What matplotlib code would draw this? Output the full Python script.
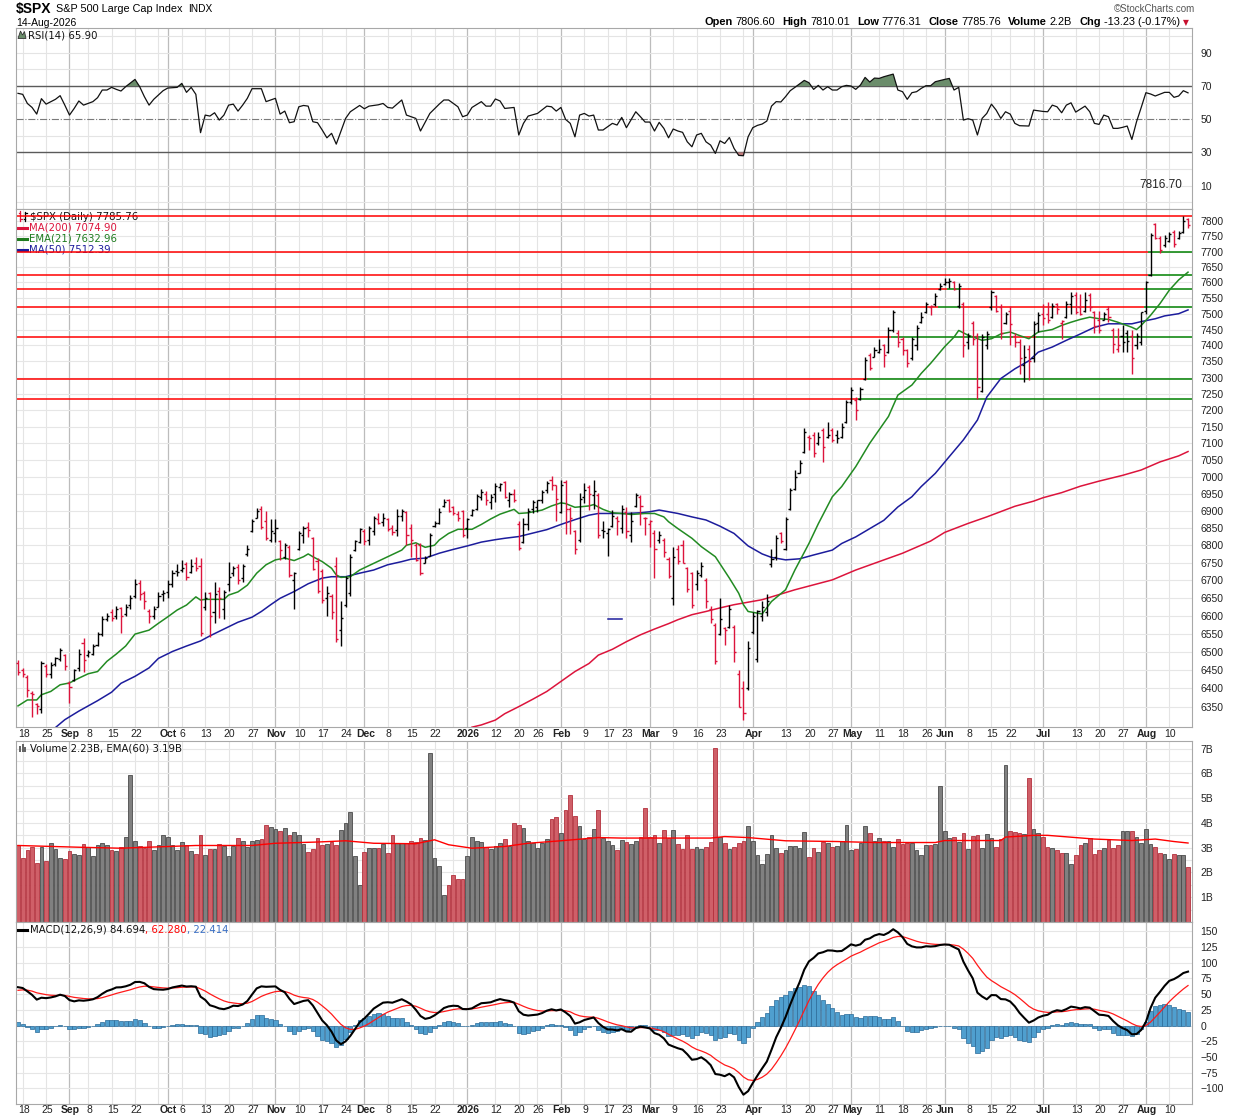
import numpy as np
import pandas as pd
import matplotlib
matplotlib.use('Agg')
import matplotlib.pyplot as plt
from matplotlib.collections import LineCollection
from matplotlib.lines import Line2D
from matplotlib.patches import Polygon, Rectangle
from matplotlib.ticker import FixedLocator, NullLocator, FuncFormatter, NullFormatter
import matplotlib.transforms as mtransforms

plt.rcParams['font.family'] = ['Liberation Sans', 'DejaVu Sans']

W, H = 1240, 1119

# trading calendar
holidays = ['2025-09-01', '2025-11-27', '2025-12-25', '2026-01-01', '2026-01-19',
            '2026-02-16', '2026-04-03', '2026-05-25', '2026-06-19', '2026-07-03']
days = pd.bdate_range('2025-08-15', '2026-08-14')
days = days[~days.isin(pd.to_datetime(holidays))]
n = len(days)

# daily OHLC
opens = [
    6470, 6450, 6430, 6388, 6358, 6345, 6462, 6440, 6468, 6480,
    6490, 6415, 6422, 6455, 6525, 6490, 6495, 6520, 6550, 6592,
    6610, 6600, 6622, 6605, 6630, 6655, 6692, 6665, 6612, 6600,
    6625, 6660, 6668, 6690, 6725, 6728, 6745, 6722, 6750, 6740,
    6625, 6665, 6610, 6670, 6620, 6690, 6720, 6738, 6705, 6775,
    6840, 6880, 6905, 6870, 6815, 6835, 6812, 6765, 6795, 6700,
    6790, 6830, 6852, 6820, 6755, 6725, 6650, 6655, 6740, 6560,
    6630, 6665, 6785, 6810, 6840, 6815, 6840, 6875, 6868, 6875,
    6850, 6845, 6885, 6895, 6850, 6800, 6800, 6750, 6770, 6855,
    6865, 6915, 6930, 6910, 6890, 6900, 6850, 6888, 6905, 6940,
    6950, 6925, 6950, 6970, 6985, 6930, 6950, 6860, 6810, 6860,
    6905, 6910, 6930, 6960, 6990, 6975, 6895, 6985, 6905, 6840,
    6815, 6940, 6970, 6945, 6945, 6845, 6835, 6855, 6880, 6850,
    6895, 6830, 6915, 6940, 6880, 6860, 6835, 6815, 6815, 6760,
    6650, 6790, 6800, 6735, 6720, 6690, 6715, 6700, 6620, 6575,
    6550, 6565, 6570, 6570, 6440, 6400, 6400, 6555, 6480, 6600,
    6610, 6745, 6765, 6835, 6790, 6905, 6965, 7012, 7075, 7120,
    7125, 7100, 7140, 7120, 7140, 7125, 7120, 7165, 7225, 7230,
    7235, 7295, 7370, 7365, 7380, 7400, 7380, 7450, 7440, 7420,
    7385, 7360, 7400, 7475, 7505, 7520, 7530, 7580, 7595, 7600,
    7600, 7525, 7530, 7410, 7470, 7430, 7260, 7400, 7520, 7555,
    7520, 7470, 7510, 7430, 7410, 7340, 7390, 7360, 7470, 7500,
    7500, 7490, 7530, 7470, 7490, 7530, 7560, 7520, 7510, 7560,
    7505, 7480, 7480, 7515, 7450, 7390, 7430, 7440, 7430, 7400,
    7410, 7510, 7625, 7790, 7745, 7720, 7735, 7765, 7745, 7765, 7806.60]
highs = [
    6478, 6455, 6436, 6392, 6362, 6476, 6467, 6471, 6487, 6510,
    6494, 6420, 6453, 6507, 6537, 6506, 6521, 6555, 6598, 6608,
    6618, 6628, 6625, 6632, 6658, 6703, 6700, 6670, 6618, 6628,
    6668, 6672, 6700, 6728, 6745, 6758, 6752, 6760, 6765, 6762,
    6668, 6668, 6695, 6680, 6672, 6752, 6740, 6745, 6745, 6800,
    6875, 6907, 6915, 6900, 6876, 6876, 6815, 6805, 6800, 6722,
    6840, 6856, 6868, 6825, 6763, 6733, 6683, 6660, 6765, 6640,
    6713, 6776, 6816, 6850, 6848, 6855, 6885, 6893, 6893, 6880,
    6858, 6905, 6905, 6900, 6860, 6806, 6806, 6768, 6835, 6870,
    6908, 6935, 6935, 6915, 6898, 6903, 6880, 6905, 6950, 6965,
    6958, 6950, 6982, 6982, 6988, 6955, 6965, 6870, 6878, 6907,
    6932, 6932, 6962, 6986, 7001, 6977, 6990, 6990, 6912, 6843,
    6951, 6981, 6976, 6990, 6951, 6870, 6850, 6902, 6885, 6918,
    6912, 6897, 6951, 6946, 6883, 6873, 6843, 6840, 6820, 6767,
    6795, 6800, 6814, 6739, 6724, 6729, 6753, 6705, 6626, 6580,
    6650, 6570, 6631, 6575, 6449, 6420, 6530, 6610, 6617, 6640,
    6660, 6790, 6829, 6839, 6883, 6966, 7020, 7050, 7145, 7125,
    7135, 7135, 7145, 7165, 7145, 7140, 7160, 7230, 7271, 7240,
    7271, 7364, 7375, 7395, 7421, 7405, 7459, 7513, 7448, 7427,
    7390, 7427, 7465, 7506, 7538, 7527, 7565, 7597, 7613, 7613,
    7605, 7597, 7538, 7440, 7477, 7440, 7436, 7445, 7575, 7560,
    7532, 7505, 7525, 7440, 7420, 7400, 7400, 7477, 7505, 7532,
    7537, 7535, 7535, 7480, 7540, 7568, 7570, 7562, 7568, 7565,
    7510, 7510, 7505, 7525, 7455, 7455, 7465, 7450, 7450, 7440,
    7505, 7604, 7760, 7795, 7750, 7755, 7765, 7770, 7768, 7816.70, 7810.01]
lows = [
    6437, 6432, 6378, 6322, 6330, 6333, 6432, 6428, 6460, 6474,
    6449, 6362, 6420, 6448, 6445, 6485, 6490, 6515, 6545, 6585,
    6586, 6590, 6553, 6598, 6620, 6650, 6645, 6620, 6580, 6590,
    6625, 6640, 6650, 6680, 6712, 6722, 6700, 6720, 6725, 6545,
    6615, 6540, 6580, 6595, 6590, 6670, 6712, 6690, 6695, 6768,
    6838, 6878, 6848, 6815, 6810, 6810, 6757, 6760, 6710, 6620,
    6786, 6805, 6825, 6728, 6663, 6635, 6600, 6590, 6528, 6515,
    6625, 6655, 6783, 6807, 6800, 6800, 6830, 6860, 6855, 6840,
    6830, 6828, 6870, 6800, 6766, 6755, 6715, 6750, 6768, 6852,
    6860, 6910, 6895, 6888, 6870, 6825, 6820, 6885, 6903, 6930,
    6918, 6905, 6925, 6958, 6937, 6910, 6925, 6786, 6805, 6843,
    6893, 6895, 6923, 6952, 6962, 6870, 6893, 6833, 6833, 6776,
    6810, 6922, 6902, 6905, 6820, 6820, 6770, 6853, 6830, 6835,
    6820, 6810, 6912, 6858, 6830, 6795, 6705, 6805, 6767, 6705,
    6630, 6745, 6748, 6667, 6622, 6672, 6710, 6622, 6580, 6468,
    6547, 6519, 6566, 6472, 6350, 6315, 6395, 6550, 6473, 6585,
    6600, 6737, 6758, 6805, 6785, 6902, 6961, 7010, 7070, 7080,
    7060, 7095, 7045, 7115, 7105, 7100, 7115, 7160, 7220, 7170,
    7230, 7292, 7323, 7364, 7375, 7333, 7375, 7443, 7396, 7370,
    7333, 7354, 7385, 7470, 7501, 7496, 7523, 7576, 7592, 7582,
    7576, 7517, 7365, 7390, 7400, 7235, 7255, 7390, 7512, 7505,
    7420, 7468, 7400, 7395, 7312, 7287, 7292, 7348, 7442, 7463,
    7472, 7485, 7500, 7420, 7485, 7500, 7500, 7495, 7505, 7510,
    7440, 7440, 7480, 7475, 7375, 7380, 7380, 7380, 7310, 7390,
    7400, 7500, 7622, 7740, 7695, 7715, 7730, 7715, 7740, 7760, 7776.31]
closes = [
    6445, 6440, 6395, 6385, 6352, 6470, 6438, 6465, 6482, 6505,
    6460, 6405, 6450, 6495, 6478, 6500, 6515, 6550, 6590, 6600,
    6595, 6620, 6600, 6625, 6650, 6690, 6660, 6640, 6598, 6620,
    6655, 6665, 6690, 6720, 6722, 6735, 6710, 6740, 6735, 6552,
    6650, 6600, 6660, 6650, 6668, 6710, 6735, 6700, 6740, 6790,
    6870, 6900, 6852, 6820, 6840, 6850, 6786, 6800, 6715, 6720,
    6836, 6850, 6845, 6733, 6670, 6643, 6665, 6610, 6535, 6595,
    6705, 6765, 6812, 6846, 6812, 6851, 6880, 6865, 6880, 6848,
    6838, 6884, 6898, 6830, 6815, 6758, 6720, 6763, 6830, 6865,
    6895, 6925, 6900, 6892, 6880, 6830, 6875, 6901, 6944, 6955,
    6930, 6940, 6972, 6978, 6940, 6948, 6932, 6792, 6860, 6900,
    6925, 6930, 6955, 6982, 6975, 6935, 6975, 6905, 6880, 6790,
    6935, 6960, 6950, 6958, 6830, 6840, 6848, 6885, 6870, 6905,
    6840, 6870, 6945, 6915, 6878, 6870, 6790, 6830, 6780, 6712,
    6765, 6755, 6750, 6675, 6630, 6720, 6740, 6640, 6590, 6475,
    6590, 6560, 6620, 6500, 6350, 6335, 6510, 6600, 6612, 6625,
    6640, 6760, 6820, 6812, 6875, 6960, 7000, 7040, 7135, 7115,
    7070, 7120, 7090, 7125, 7110, 7115, 7150, 7225, 7262, 7200,
    7265, 7355, 7330, 7385, 7390, 7370, 7450, 7505, 7410, 7385,
    7345, 7420, 7455, 7490, 7530, 7525, 7555, 7590, 7600, 7605,
    7580, 7590, 7400, 7430, 7420, 7270, 7425, 7435, 7570, 7507,
    7440, 7500, 7468, 7410, 7360, 7365, 7350, 7468, 7495, 7485,
    7480, 7525, 7515, 7478, 7530, 7555, 7505, 7500, 7545, 7520,
    7460, 7450, 7500, 7490, 7405, 7400, 7410, 7415, 7360, 7430,
    7505, 7600, 7755, 7745, 7705, 7745, 7758, 7725, 7762, 7798.99, 7785.76]

# volume in billions
volumes = [
    3.12, 2.58, 2.91, 3.02, 2.40, 3.02, 2.48, 3.21, 2.96, 2.60,
    2.54, 2.85, 2.74, 2.71, 3.13, 3.02, 2.65, 3.12, 3.21, 3.12,
    2.89, 2.85, 3.01, 3.45, 5.92, 3.29, 3.05, 2.98, 3.29, 2.89,
    3.12, 3.50, 3.45, 3.12, 2.89, 3.25, 3.12, 2.87, 2.74, 3.50,
    2.71, 2.93, 2.93, 3.16, 3.08, 2.65, 3.08, 3.41, 3.29, 3.02,
    3.29, 3.30, 3.35, 3.93, 3.82, 3.77, 3.66, 3.79, 3.50, 3.62,
    3.52, 3.14, 2.81, 2.94, 3.39, 3.12, 3.14, 3.25, 3.09, 3.70,
    3.99, 4.43, 2.65, 1.50, 2.81, 2.98, 2.98, 2.98, 3.16, 2.78,
    3.50, 3.18, 3.18, 3.18, 3.29, 3.23, 3.41, 3.32, 6.83, 2.58,
    2.27, 1.09, 1.50, 1.90, 1.73, 1.73, 2.65, 3.45, 3.29, 3.23,
    3.02, 2.94, 3.05, 3.21, 3.35, 3.05, 3.99, 3.90, 3.79, 3.29,
    3.21, 2.98, 3.21, 3.35, 4.16, 4.26, 3.59, 4.53, 5.11, 4.30,
    3.86, 3.35, 3.45, 3.75, 4.52, 3.39, 3.29, 3.09, 2.89,
    3.32, 3.25, 3.14, 3.28, 3.45, 4.60, 3.45, 3.50, 3.21, 3.70,
    3.41, 3.70, 3.14, 2.96, 3.50, 2.96, 3.02, 2.96, 3.02, 3.25,
    7.03, 3.45, 3.18, 2.96, 3.02, 3.18, 3.28, 3.86, 3.29, 2.71,
    2.33, 2.74, 3.50, 2.98, 2.78, 2.89, 3.05, 3.05, 2.98, 3.62,
    2.62, 2.98, 2.81, 3.23, 3.18, 3.02, 3.08, 3.28, 3.90, 2.89,
    2.94, 3.21, 3.86, 3.59, 3.29, 3.41, 3.29, 3.29, 3.02, 3.35,
    3.16, 3.18, 3.18, 2.91, 2.71, 3.09, 3.12, 3.16, 5.48, 3.66,
    3.41, 3.43, 3.25, 3.59, 2.94, 3.48, 3.52, 2.98, 3.55, 3.39,
    3.02, 3.35, 6.33, 3.66, 3.62, 3.59, 3.55, 5.82, 3.74, 3.59,
    3.43, 3.02, 2.98, 2.89, 2.78, 2.78, 2.33, 2.71, 3.09, 3.18,
    3.41, 2.74, 2.89, 2.98, 3.32, 2.98, 3.09, 3.66, 3.66, 3.66,
    3.43, 3.18, 3.75, 3.16, 3.02, 2.78, 2.74, 2.54, 2.74, 2.70, 2.70, 2.23]

assert len(opens) == len(highs) == len(lows) == len(closes) == len(volumes) == n

# overlay lines read at sampled bars
ema21_bar = [0, 2, 4, 5, 7, 9, 11, 13, 15, 17, 19, 21, 23, 25, 28, 30, 32, 34, 36, 38,
             39, 40, 42, 44, 45, 47, 49, 51, 53, 55, 57, 59, 61, 62, 63, 65, 67, 68, 69, 71,
             73, 76, 79, 82, 83, 85, 87, 89, 90, 92, 94, 97, 99, 101, 103, 106, 107, 109, 112, 114,
             116, 117, 119, 122, 123, 125, 127, 129, 131, 134, 136, 138, 139, 141, 144, 146, 149, 152, 154, 155,
             156, 159, 161, 164, 166, 169, 171, 174, 176, 179, 182, 186, 188, 191, 193, 195, 198, 200, 201, 203,
             206, 208, 210, 212, 214, 216, 218, 221, 223, 225, 227, 229, 231, 233, 235, 238, 239, 240, 242, 244,
             246, 248, 250]
ema21_val = [6353, 6369, 6369, 6383, 6392, 6410, 6415, 6428, 6440, 6446, 6474, 6494, 6516, 6549, 6560, 6579, 6597, 6616, 6630, 6653,
             6644, 6646, 6646, 6646, 6658, 6667, 6686, 6720, 6744, 6758, 6763, 6756, 6767, 6775, 6767, 6753, 6734, 6715, 6708, 6710,
             6729, 6748, 6767, 6786, 6800, 6807, 6794, 6800, 6815, 6834, 6846, 6846, 6860, 6876, 6890, 6904, 6892, 6894, 6902, 6914,
             6923, 6921, 6910, 6914, 6918, 6904, 6894, 6892, 6889, 6892, 6892, 6882, 6868, 6848, 6820, 6796, 6767, 6706, 6663, 6631,
             6612, 6605, 6640, 6673, 6729, 6805, 6862, 6941, 6971, 7030, 7100, 7181, 7246, 7277, 7313, 7344, 7396, 7426, 7447, 7432,
             7416, 7421, 7436, 7442, 7431, 7421, 7442, 7450, 7463, 7473, 7482, 7489, 7484, 7482, 7473, 7457, 7450, 7463, 7495, 7532,
             7575, 7608, 7633]
ma50_bar = [8, 10, 13, 17, 20, 22, 25, 28, 30, 33, 36, 39, 41, 44, 47, 50, 52, 54, 56, 59,
            62, 65, 67, 70, 73, 76, 79, 82, 84, 87, 90, 93, 96, 99, 102, 104, 107, 110, 113, 116,
            119, 122, 124, 127, 130, 133, 135, 137, 139, 141, 144, 147, 150, 153, 156, 159, 161, 164, 167, 170,
            174, 176, 179, 182, 185, 188, 191, 193, 196, 199, 202, 205, 207, 210, 213, 216, 218, 221, 224, 227,
            230, 233, 235, 238, 240, 243, 245, 248, 250]
ma50_val = [6295, 6316, 6339, 6367, 6390, 6414, 6433, 6456, 6482, 6501, 6516, 6530, 6544, 6563, 6582, 6596, 6612, 6631, 6649, 6668,
            6690, 6706, 6710, 6710, 6720, 6729, 6744, 6753, 6760, 6763, 6777, 6788, 6798, 6809, 6816, 6820, 6825, 6835, 6845, 6860,
            6874, 6887, 6892, 6892, 6892, 6894, 6897, 6902, 6897, 6892, 6882, 6873, 6855, 6834, 6798, 6775, 6765, 6758, 6761, 6772,
            6786, 6805, 6824, 6848, 6872, 6911, 6941, 6971, 7010, 7060, 7110, 7170, 7240, 7297, 7327, 7352, 7379, 7395, 7416, 7436,
            7457, 7468, 7468, 7468, 7475, 7484, 7493, 7500, 7512]
ma200_bar = [97, 99, 102, 104, 107, 110, 113, 116, 119, 122, 124, 127, 130, 133, 136, 139, 141, 144, 147, 150,
             153, 156, 159, 166, 174, 179, 184, 189, 195, 198, 203, 207, 213, 217, 219, 223, 227, 231, 236, 240,
             244, 248, 250]
ma200_val = [6296, 6302, 6315, 6332, 6351, 6371, 6392, 6419, 6446, 6468, 6491, 6507, 6528, 6547, 6563, 6578, 6589, 6603, 6612, 6622,
             6631, 6638, 6645, 6673, 6701, 6729, 6753, 6777, 6812, 6837, 6863, 6882, 6913, 6928, 6938, 6953, 6972, 6987, 7004, 7020,
             7044, 7062, 7075]
vol_ema_bar = [0, 13, 22, 38, 50, 55, 64, 70, 76, 85, 89, 92, 97, 104, 109, 116, 124, 129, 148, 151,
               156, 164, 175, 183, 196, 198, 210, 211, 217, 220, 230, 238, 243, 247, 250]
vol_ema_val = [3.09, 3.02, 2.98, 3.09, 3.09, 3.18, 3.23, 3.28, 3.18, 3.16, 3.32, 3.12, 2.98, 3.05, 3.18, 3.28, 3.41, 3.39, 3.39, 3.45,
               3.41, 3.28, 3.25, 3.21, 3.21, 3.29, 3.29, 3.43, 3.50, 3.50, 3.35, 3.29, 3.35, 3.25, 3.19]

rsi_bar = [0, 1, 2, 3, 4, 5, 6, 8, 9, 10, 11, 12, 13, 14, 16, 17, 18, 19, 20, 21,
           22, 23, 25, 26, 27, 28, 29, 30, 31, 32, 34, 35, 36, 37, 38, 39, 40, 41, 42, 43,
           44, 45, 46, 47, 48, 49, 50, 52, 53, 54, 55, 56, 57, 58, 59, 60, 61, 62, 63, 64,
           65, 66, 67, 68, 70, 71, 73, 74, 75, 77, 78, 79, 80, 82, 83, 85, 86, 88, 90, 91,
           92, 94, 95, 96, 97, 99, 100, 101, 102, 103, 104, 106, 107, 108, 109, 111, 113, 114, 115, 116,
           117, 118, 119, 120, 121, 122, 123, 124, 125, 127, 128, 129, 130, 132, 133, 134, 135, 136, 137, 138,
           139, 140, 141, 142, 143, 144, 145, 146, 147, 148, 149, 150, 151, 152, 153, 154, 155, 156, 157, 158,
           159, 160, 161, 162, 163, 164, 165, 166, 168, 169, 170, 171, 172, 173, 174, 175, 176, 177, 178, 179,
           180, 181, 182, 183, 184, 185, 187, 188, 189, 190, 191, 192, 193, 194, 195, 196, 198, 199, 200, 201,
           202, 203, 204, 205, 206, 207, 208, 209, 210, 211, 212, 213, 214, 216, 217, 219, 220, 221, 222, 223,
           224, 225, 226, 228, 229, 230, 231, 232, 233, 234, 235, 236, 237, 238, 239, 240, 241, 242, 243, 245,
           246, 247, 248, 249, 250]
rsi_val = [65.6, 65.0, 59.5, 57.1, 53.1, 62.4, 59.1, 62.0, 64.2, 58.5, 52.5, 56.5, 61.0, 58.5, 60.6, 63.0, 67.6, 67.6, 69.2, 68.0,
           67.0, 69.6, 74.0, 69.6, 63.6, 58.5, 62.0, 64.6, 67.2, 68.8, 69.2, 71.6, 66.2, 69.2, 65.0, 41.9, 52.5, 51.9, 53.9, 49.5,
           52.5, 58.5, 59.1, 54.9, 58.5, 62.6, 68.4, 68.4, 60.6, 61.6, 62.6, 53.1, 54.9, 47.9, 48.5, 57.5, 58.3, 57.9, 48.5, 47.9,
           43.5, 38.8, 41.5, 35.0, 50.5, 54.5, 58.3, 56.3, 57.9, 58.7, 59.5, 57.1, 56.7, 61.6, 52.5, 50.5, 42.9, 53.5, 59.1, 61.6,
           61.6, 57.5, 51.5, 52.5, 57.1, 60.6, 57.9, 57.9, 62.2, 61.0, 56.5, 57.1, 40.5, 47.5, 51.9, 53.5, 57.9, 57.5, 54.9, 57.1,
           49.9, 47.5, 39.4, 52.5, 53.5, 51.9, 52.5, 43.5, 43.5, 47.5, 46.5, 51.1, 44.9, 54.5, 51.5, 48.3, 48.3, 42.9, 48.1, 44.5,
           38.8, 44.1, 42.9, 42.1, 36.4, 33.4, 40.5, 41.5, 36.4, 34.4, 29.4, 37.0, 35.4, 39.0, 32.4, 28.2, 28.0, 39.4, 44.9, 46.3,
           47.1, 48.9, 57.9, 60.6, 60.4, 63.6, 67.2, 69.2, 73.4, 72.0, 68.0, 70.4, 67.6, 69.6, 67.6, 67.6, 69.6, 70.4, 70.0, 68.0,
           70.6, 75.2, 72.4, 74.8, 74.6, 75.6, 77.2, 67.6, 66.6, 62.0, 66.0, 66.6, 68.6, 70.2, 70.2, 72.6, 74.0, 74.6, 67.6, 69.2,
           49.5, 50.3, 49.5, 40.5, 50.5, 53.5, 59.1, 55.5, 50.5, 54.5, 53.1, 47.5, 46.1, 45.9, 55.5, 54.7, 54.5, 58.5, 57.5, 53.9,
           58.5, 59.9, 54.3, 57.9, 54.5, 47.5, 46.9, 52.5, 51.5, 44.5, 44.5, 45.1, 45.9, 37.8, 48.5, 57.1, 66.0, 65.2, 64.0, 66.2,
           66.2, 63.2, 64.0, 67.2, 65.9]

# MACD(12,26,9) starting state read at the left edge
macd_ema12_start = 6400.0
macd_ema26_start = 6339.0
macd_signal_start = 56.0

# horizontal price levels; colour flips (red -> green -> red ...) at these bars
level_values = [7816.70, 7700, 7625, 7580, 7520, 7425, 7295, 7235]
level_turns = [[], [242], [242], [199, 202, 241], [197, 202, 241], [187, 213, 218], [182], [180]]
stray_dash_bars = [126, 129]
stray_dash_level = 6591

# ---------------------------------------------------------------
x = np.arange(n)
o = np.array(opens, float)
hi = np.array(highs, float)
lo = np.array(lows, float)
c = np.array(closes, float)
v = np.array(volumes, float)
up = np.r_[c[0] >= o[0], c[1:] >= c[:-1]]

ema12 = np.empty(n)
ema26 = np.empty(n)
sig = np.empty(n)
ema12[0], ema26[0] = macd_ema12_start, macd_ema26_start
for k in range(1, n):
    ema12[k] = ema12[k - 1] + 2 / 13 * (c[k] - ema12[k - 1])
    ema26[k] = ema26[k - 1] + 2 / 27 * (c[k] - ema26[k - 1])
macd = ema12 - ema26
sig[0] = macd_signal_start
for k in range(1, n):
    sig[k] = sig[k - 1] + 2 / 10 * (macd[k] - sig[k - 1])
hist = macd - sig

# calendar ticks
iso = days.isocalendar()
wkey = iso.year.values * 100 + iso.week.values
week_first = [k for k in range(1, n) if wkey[k] != wkey[k - 1]]
month_first = [k for k in range(1, n) if days[k].month != days[k - 1].month]
labels = []
for m in month_first:
    d = days[m]
    labels.append((m, str(d.year) if d.month == 1 else d.strftime('%b'), True))
week_grid = []
for k in week_first:
    if k in month_first:
        continue
    after = any(0 < k - m <= 2 for m in month_first)
    if not after:
        week_grid.append(k)
    before = any(0 < m - k <= (3 if days[m].month == 1 else 2) for m in month_first)
    if not after and not before:
        labels.append((k, str(days[k].day), False))

# ---------------------------------------------------------------
fig = plt.figure(figsize=(W / 100, H / 100), dpi=100)
fig.patch.set_facecolor('white')


def box(left, top, right, bottom):
    return [left / W, 1 - bottom / H, (right - left) / W, (bottom - top) / H]


def fpt(px, py):
    return px / W, 1 - py / H


ax_rsi = fig.add_axes(box(16, 28.3, 1192, 209))
ax_px = fig.add_axes(box(16, 209, 1192, 727))
ax_vol = fig.add_axes(box(16, 741, 1192, 922))
ax_macd = fig.add_axes(box(16, 922, 1192, 1103.7))
axes = [ax_rsi, ax_px, ax_vol, ax_macd]

ax_px.set_yscale('log')
for ax in axes:
    ax.set_xlim(-0.43, n - 0.15)
    ax.set_xticks([])
    ax.yaxis.tick_right()
    ax.tick_params(axis='y', which='both', length=0, pad=6, labelsize=7.5, labelcolor='#222222')
    for sp in ax.spines.values():
        sp.set_color('#a8a8a8')
        sp.set_linewidth(0.8)
    for k in week_grid:
        ax.axvline(k, color='#e4e4e4', lw=0.8, zorder=0)
    for k in month_first:
        ax.axvline(k, color='#bcbcbc', lw=0.9, zorder=0)

# RSI panel
ax_rsi.set_ylim(-4.1, 104.8)
ax_rsi.yaxis.set_major_locator(FixedLocator([10, 30, 50, 70, 90]))
for g in range(0, 101, 10):
    if g not in (30, 50, 70):
        ax_rsi.axhline(g, color='#e4e4e4', lw=0.8, zorder=0)
ax_rsi.axhline(70, color='#5a5a5a', lw=1.0, zorder=1)
ax_rsi.axhline(30, color='#5a5a5a', lw=1.0, zorder=1)
ax_rsi.axhline(50, color='#7a7a7a', lw=0.8, ls='-.', zorder=1)
rb = np.array(rsi_bar)
rv = np.array(rsi_val)
ax_rsi.fill_between(rb, rv, 70, where=rv > 70, interpolate=True, color='#6b8d6b', zorder=2, lw=0)
ax_rsi.fill_between(rb, rv, 30, where=rv < 30, interpolate=True, color='#c07c7c', zorder=2, lw=0)
ax_rsi.plot(rb, rv, color='#111111', lw=0.9, zorder=3)

# price panel
ax_px.set_ylim(6296.5, 7839.8)
pticks = np.arange(6350, 7801, 50)
ax_px.yaxis.set_major_locator(FixedLocator(pticks))
ax_px.yaxis.set_minor_locator(NullLocator())
ax_px.yaxis.set_major_formatter(FuncFormatter(lambda val, pos: f'{val:.0f}'))
ax_px.yaxis.set_minor_formatter(NullFormatter())
for t in pticks:
    ax_px.axhline(t, color='#e6e6e6', lw=0.8, zorder=0)

xl, xr = ax_px.get_xlim()
for lvl, turns in zip(level_values, level_turns):
    edges = [xl] + [t - 0.5 for t in turns] + [xr]
    for s in range(len(edges) - 1):
        col = '#ff0000' if s % 2 == 0 else '#008000'
        ax_px.plot([edges[s], edges[s + 1]], [lvl, lvl], color=col, lw=1.1, zorder=2,
                   solid_capstyle='butt')

ax_px.plot(ma200_bar, ma200_val, color='#dc143c', lw=1.1, zorder=3)
ax_px.plot(ma50_bar, ma50_val, color='#1c1c9c', lw=1.1, zorder=3)
ax_px.plot(ema21_bar, ema21_val, color='#228b22', lw=1.1, zorder=3)
ax_px.plot(stray_dash_bars, [stray_dash_level] * 2, color='#1c1c9c', lw=1.1, zorder=3)

bar_col = np.where(up, '#000000', '#dc143c')
segs, cols = [], []
for k in range(n):
    segs += [[(k, lo[k]), (k, hi[k])], [(k - 0.45, o[k]), (k, o[k])], [(k, c[k]), (k + 0.45, c[k])]]
    cols += [bar_col[k]] * 3
ax_px.add_collection(LineCollection(segs, colors=cols, linewidths=1.0, capstyle='butt', zorder=4))

# volume panel
ax_vol.set_ylim(0, 7.31)
ax_vol.yaxis.set_major_locator(FixedLocator(range(1, 8)))
ax_vol.yaxis.set_major_formatter(FuncFormatter(lambda val, pos: f'{val:.0f}B'))
for g in np.arange(0.5, 7.3, 0.5):
    ax_vol.axhline(g, color='#e6e6e6', lw=0.8, zorder=0)
ax_vol.bar(x, v, width=0.8, color=np.where(up, '#808080', '#cf5f68'),
           edgecolor=np.where(up, '#4a4a4a', '#b3303c'), linewidth=0.6, zorder=2)
ax_vol.plot(vol_ema_bar, vol_ema_val, color='#ff0000', lw=1.0, zorder=3)

# MACD panel
ax_macd.set_ylim(-124.5, 164.8)
mt = np.arange(-100, 151, 25)
ax_macd.yaxis.set_major_locator(FixedLocator(mt))
for g in mt:
    ax_macd.axhline(g, color='#e6e6e6', lw=0.8, zorder=0)
ax_macd.bar(x, hist, width=0.92, color='#4f9fcf', edgecolor='#2a6a98', linewidth=0.5, zorder=2)
ax_macd.plot(x, sig, color='#ff1a1a', lw=0.9, zorder=3)
ax_macd.plot(x, macd, color='#000000', lw=1.5, zorder=4)

# date labels
for ax, ypos in ((ax_px, -0.0135), (ax_macd, -0.035)):
    tr = mtransforms.blended_transform_factory(ax.transData, ax.transAxes)
    for k, txt, bold in labels:
        ax.text(k + 0.2, ypos, txt, transform=tr, ha='center', va='center', fontsize=7.5,
                fontweight='bold' if bold else 'normal', color='#222222', clip_on=False)


# ---------------------------------------------------------------
def chain(x_px, y_px, parts, align='left', target=fig, zorder=5):
    r = fig.canvas.get_renderer()
    widths = []
    for s, kw, gap in parts:
        t = fig.text(0, 0, s, **kw)
        widths.append(t.get_window_extent(renderer=r).width + gap)
        t.remove()
    x0 = x_px if align == 'left' else x_px - sum(widths)
    for (s, kw, gap), w in zip(parts, widths):
        target.text(*fpt(x0, y_px), s, transform=fig.transFigure, ha='left', va='center',
                    zorder=zorder, **kw)
        x0 += w


chain(16, 9, [('$SPX', dict(fontsize=10, fontweight='bold'), 4),
              ('S&P 500 Large Cap Index', dict(fontsize=7.8), 6),
              ('INDX', dict(fontsize=7.3), 0)])
fig.text(*fpt(16, 22.5), '14-Aug-2026', fontsize=7.5, va='center', ha='left')
fig.text(*fpt(1195, 9.5), '\u00a9StockCharts.com', fontsize=7, color='#555555', va='center', ha='right')

B = dict(fontsize=7.9, fontweight='bold')
N = dict(fontsize=7.9)
chain(1189, 22.3, [('Open', B, 3), ('7806.60', N, 7), ('High', B, 3), ('7810.01', N, 7),
                   ('Low', B, 3), ('7776.31', N, 7), ('Close', B, 3), ('7785.76', N, 7),
                   ('Volume', B, 3), ('2.2B', N, 7), ('Chg', B, 3), ('-13.23 (-0.17%)', N, 3),
                   ('\u25bc', dict(fontsize=5.5, color='#c8102e', family='DejaVu Sans'), 0)],
      align='right')

LEG = dict(family='DejaVu Sans', fontsize=7.3)
# RSI legend
fig.add_artist(Polygon([fpt(18, 38.5), fpt(20.5, 31), fpt(22.5, 35), fpt(24.5, 31.5), fpt(26, 38.5)],
                       closed=True, facecolor='#6b8d6b', edgecolor='#333333', lw=0.6,
                       transform=fig.transFigure))
fig.text(*fpt(28, 35), 'RSI(14) 65.90', va='center', ha='left', color='#111111', **LEG)
fig.text(*fpt(1182, 185), '7816.70', fontsize=8.5, va='center', ha='right', color='#222222')

# price legend
for xx, (y_a, y_b, y_o, y_c), colr in ((20, (211, 221, 213, 219), '#dc143c'),
                                      (25, (212, 221, 219, 213), '#000000')):
    for seg in ([(xx, y_a), (xx, y_b)], [(xx - 1.5, y_o), (xx, y_o)], [(xx, y_c), (xx + 1.5, y_c)]):
        ax_px.add_artist(Line2D([fpt(*p)[0] for p in seg], [fpt(*p)[1] for p in seg],
                                transform=fig.transFigure, color=colr, lw=0.9, zorder=1))
ax_px.text(*fpt(30, 216.5), '$SPX (Daily) 7785.76', transform=fig.transFigure, va='center',
           ha='left', color='#111111', zorder=1, **LEG)
for yy, txt, colr in ((227.5, 'MA(200) 7074.90', '#dc143c'), (238.5, 'EMA(21) 7632.96', '#1e7b1e'),
                      (249.5, 'MA(50) 7512.39', '#1c1c9c')):
    ax_px.add_artist(Line2D([fpt(18, yy)[0], fpt(27, yy)[0]], [fpt(18, yy)[1]] * 2,
                            transform=fig.transFigure, color=colr, lw=2.2, zorder=1))
    ax_px.text(*fpt(29, yy), txt, transform=fig.transFigure, va='center', ha='left',
               color=colr, zorder=1, **LEG)

# volume legend
for xx, top in ((19.5, 746), (22.5, 744), (25.5, 747)):
    fig.add_artist(Rectangle(fpt(xx - 1, 752), 2 / W, (752 - top) / H, transform=fig.transFigure,
                             facecolor='#666666', edgecolor='none'))
fig.text(*fpt(30, 748.5), 'Volume 2.23B, EMA(60) 3.19B', va='center', ha='left', color='#111111', **LEG)

# MACD legend
fig.add_artist(Line2D([fpt(18, 929.5)[0], fpt(27, 929.5)[0]], [fpt(18, 929.5)[1]] * 2,
                      transform=fig.transFigure, color='#000000', lw=2.2))
chain(30, 929.5, [('MACD(12,26,9) 84.694', dict(color='#111111', **LEG), 0),
                  (', 62.280', dict(color='#ff0000', **LEG), 0),
                  (', 22.414', dict(color='#3a6fc4', **LEG), 0)])

fig.savefig('out.png', dpi=100, facecolor='white')
